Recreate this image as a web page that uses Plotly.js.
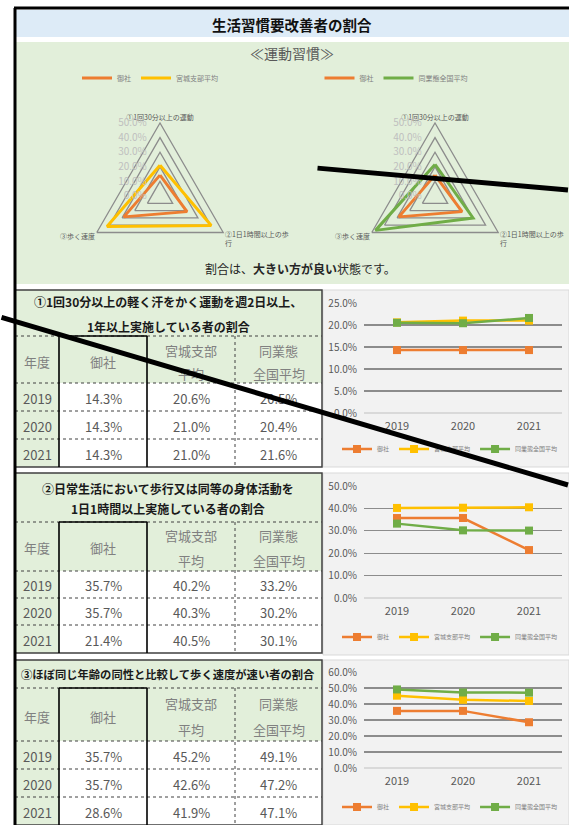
<!DOCTYPE html>
<html><head><meta charset="utf-8">
<script src="https://cdn.plot.ly/plotly-3.0.1.min.js"></script>
<style>html,body{margin:0;padding:0;background:#fff}#chart{width:569px;height:825px}</style>
</head><body><div id="chart"></div>
<script>
// ---------------- DATA ----------------
const years = ['2019', '2020', '2021'];
const seriesNames = ['御社', '宮城支部平均', '同業態全国平均'];
const seriesColors = ['#ed7d31', '#ffc000', '#70ad47'];

// ① exercise 30min+
const t1Company = [14.3, 14.3, 14.3];
const t1Miyagi = [20.6, 21.0, 21.0];
const t1National = [20.5, 20.4, 21.6];
// ② walking 1h+
const t2Company = [35.7, 35.7, 21.4];
const t2Miyagi = [40.2, 40.3, 40.5];
const t2National = [33.2, 30.2, 30.1];
// ③ walking speed
const t3Company = [35.7, 35.7, 28.6];
const t3Miyagi = [45.2, 42.6, 41.9];
const t3National = [49.1, 47.2, 47.1];

// radar (2021)
const radarAxes = ['①1回30分以上の運動', '②1日1時間以上の歩<br>行', '③歩く速度'];
const radarCompany = [14.3, 21.4, 28.6];
const radarMiyagi = [21.0, 40.5, 41.9];
const radarNational = [21.6, 30.1, 47.1];

const tableTitles = [
  ['①1回30分以上の軽く汗をかく運動を週2日以上、', '1年以上実施している者の割合'],
  ['②日常生活において歩行又は同等の身体活動を', '1日1時間以上実施している者の割合'],
  ['③ほぼ同じ年齢の同性と比較して歩く速度が速い者の割合']
];
const colHeaders = [['年度'], ['御社'], ['宮城支部', '平均'], ['同業態', '全国平均']];
const tableData = [
  [t1Company, t1Miyagi, t1National],
  [t2Company, t2Miyagi, t2National],
  [t3Company, t3Miyagi, t3National]
];
const yMax = [25, 50, 60];
const yStep = [5, 10, 10];

// ---------------- LAYOUT HELPERS ----------------
const W = 569, H = 825;
const px = x => x / W;
const py = y => 1 - y / H;
const JP = '"Noto Sans CJK JP", "Noto Sans", sans-serif';
const NARROW = '"Liberation Sans Narrow", "Arial Narrow", "Noto Sans CJK JP", sans-serif';

const shapes = [];
const annotations = [];
function rect(x0, y0, x1, y1, fill, line, lw, layer) {
  shapes.push({type: 'rect', xref: 'paper', yref: 'paper', x0: px(x0), x1: px(x1), y0: py(y1), y1: py(y0),
    fillcolor: fill || 'rgba(0,0,0,0)', line: {color: line || 'rgba(0,0,0,0)', width: lw || 0}, layer: layer || 'below'});
}
function seg(x0, y0, x1, y1, color, width, dash, layer) {
  shapes.push({type: 'line', xref: 'paper', yref: 'paper', x0: px(x0), x1: px(x1), y0: py(y0), y1: py(y1),
    line: {color: color, width: width, dash: dash || 'solid'}, layer: layer || 'above'});
}
function txt(x, y, text, size, color, family, xanchor) {
  annotations.push({xref: 'paper', yref: 'paper', x: px(x), y: py(y), text: text, showarrow: false,
    xanchor: xanchor || 'center', yanchor: 'middle', font: {size: size, color: color, family: family || JP}});
}

// ---------------- BACKGROUNDS ----------------
rect(15, 10, 569, 37, '#ddebf7');
rect(15, 42, 569, 284, '#e2efda');
txt(292, 25, '<b>生活習慣要改善者の割合</b>', 14.5, '#111', JP);
txt(292, 53, '≪運動習慣≫', 14, '#595959', JP);
txt(300, 268, '割合は、<b>大きい方が良い</b>状態です。', 12, '#262626', JP);

// ---------------- TABLES ----------------
const cols = [15, 59, 147, 235, 322];
const secs = [
  {top: 290, tb: 336, hb: 383, rows: [383, 411, 439, 467], titleY: [301, 326], hY: [350, 373]},
  {top: 473, tb: 522, hb: 571, rows: [571, 598, 625, 653], titleY: [488, 508], hY: [535, 560]},
  {top: 660, tb: 688, hb: 741, rows: [741, 769, 797, 825], titleY: [674], hY: [703, 729]}
];
const panels = [[290, 467], [473, 655], [660, 825]];

secs.forEach((s, si) => {
  const bottom = s.rows[3];
  rect(cols[0], s.top, cols[4], s.hb, '#e2efda');
  rect(cols[0], s.hb, cols[1], bottom, '#e2efda');
  rect(cols[1], s.hb, cols[4], bottom, '#ffffff');
  rect(cols[0], s.top, cols[4], bottom, null, '#404040', 1.5, 'above');
  seg(cols[0], s.tb, cols[4], s.tb, '#404040', 1, 'dot');
  seg(cols[0], s.hb, cols[4], s.hb, '#404040', 1, 'dot');
  for (let r = 1; r < 3; r++) seg(cols[0], s.rows[r], cols[4], s.rows[r], '#404040', 1, 'dot');
  seg(cols[1], s.tb, cols[1], bottom, '#000', 1.6);
  seg(cols[2], s.tb, cols[2], bottom, '#000', 1.6);
  seg(cols[3], s.tb, cols[3], bottom, '#404040', 1, 'dot');
  seg(cols[1], s.tb, cols[2], s.tb, '#000', 1.6);
  tableTitles[si].forEach((t, i) => txt(168, s.titleY[i], '<b>' + t + '</b>', si === 2 ? 11.3 : 12, '#1a1a1a', JP));
  colHeaders.forEach((h, c) => {
    const cx = (cols[c] + cols[c + 1]) / 2;
    if (h.length === 1) txt(cx, (s.hY[0] + s.hY[1]) / 2, h[0], 13, '#808080', JP);
    else h.forEach((line, i) => txt(cx, s.hY[i], line, 13, '#808080', JP));
  });
  years.forEach((yr, r) => {
    const cy = (s.rows[r] + s.rows[r + 1]) / 2 + 1;
    txt((cols[0] + cols[1]) / 2, cy, yr, 13, '#595959', NARROW);
    tableData[si].forEach((series, c) => {
      txt((cols[c + 1] + cols[c + 2]) / 2, cy, series[r].toFixed(1) + '%', 13, '#595959', NARROW);
    });
  });
  rect(323, panels[si][0], 569, panels[si][1], '#f2f2f2', '#d9d9d9', 1);
});

seg(14, 8, 569, 8, '#000', 3);
seg(15, 8, 15, 825, '#000', 3);

// ---------------- TRACES ----------------
const traces = [];
function closeLoop(a) { return a.concat([a[0]]); }
const thetaLoop = closeLoop(radarAxes);
traces.push({type: 'scatterpolar', subplot: 'polar', r: closeLoop(radarCompany), theta: thetaLoop, mode: 'lines',
  name: seriesNames[0], line: {color: seriesColors[0], width: 3}, legend: 'legend'});
traces.push({type: 'scatterpolar', subplot: 'polar', r: closeLoop(radarMiyagi), theta: thetaLoop, mode: 'lines',
  name: seriesNames[1], line: {color: seriesColors[1], width: 3}, legend: 'legend'});
traces.push({type: 'scatterpolar', subplot: 'polar2', r: closeLoop(radarCompany), theta: thetaLoop, mode: 'lines',
  name: seriesNames[0], line: {color: seriesColors[0], width: 3}, legend: 'legend2'});
traces.push({type: 'scatterpolar', subplot: 'polar2', r: closeLoop(radarNational), theta: thetaLoop, mode: 'lines',
  name: seriesNames[2], line: {color: seriesColors[2], width: 3}, legend: 'legend2'});

tableData.forEach((group, gi) => {
  group.forEach((vals, si) => {
    traces.push({type: 'scatter', x: years, y: vals, mode: 'lines+markers', name: seriesNames[si],
      xaxis: gi === 0 ? 'x' : 'x' + (gi + 1), yaxis: gi === 0 ? 'y' : 'y' + (gi + 1),
      line: {color: seriesColors[si], width: 2.5}, marker: {symbol: 'square', size: 8, color: seriesColors[si]},
      legend: 'legend' + (gi + 3)});
  });
});

// ---------------- LAYOUT ----------------
const R = 73;
const PAD = '\u00a0'.repeat(5);
function polarCfg(cx, cy) {
  return {
    domain: {x: [px(cx - R), px(cx + R)], y: [py(cy + R), py(cy - R)]},
    bgcolor: 'rgba(0,0,0,0)',
    gridshape: 'linear',
    radialaxis: {range: [0, 50], dtick: 10, tickformat: '.1f', ticksuffix: '%' + PAD, angle: 90, tickangle: 90,
      side: 'counterclockwise', showline: false, gridcolor: '#8c8c8c', gridwidth: 1.3, ticks: '',
      tickfont: {size: 10, color: '#bfbfbf', family: NARROW}},
    angularaxis: {rotation: 90, direction: 'clockwise', showgrid: false, linecolor: '#8c8c8c', linewidth: 1.3,
      ticks: '', tickfont: {size: 7, color: '#595959', family: JP}}
  };
}

const plotX = [px(364), px(562)];
const yPix = [[303, 413], [486, 598], [672, 768]];
const legendY = [449, 637, 807];

const layout = {
  width: W, height: H,
  margin: {l: 0, r: 0, t: 0, b: 0},
  paper_bgcolor: '#ffffff', plot_bgcolor: 'rgba(0,0,0,0)',
  shapes: shapes,
  polar: polarCfg(160, 196),
  polar2: polarCfg(435, 196),
  legend: {x: px(150), y: py(78), xanchor: 'center', yanchor: 'middle', orientation: 'h',
    bgcolor: 'rgba(0,0,0,0)', font: {size: 7, color: '#808080', family: JP}, itemwidth: 30},
  legend2: {x: px(396), y: py(78), xanchor: 'center', yanchor: 'middle', orientation: 'h',
    bgcolor: 'rgba(0,0,0,0)', font: {size: 7, color: '#808080', family: JP}, itemwidth: 30},
  showlegend: true
};
for (let g = 0; g < 3; g++) {
  const xa = g === 0 ? 'xaxis' : 'xaxis' + (g + 1);
  const ya = g === 0 ? 'yaxis' : 'yaxis' + (g + 1);
  layout[xa] = {domain: plotX, type: 'category', range: [-0.5, 2.5], showgrid: false, zeroline: false,
    showline: false, ticks: '', ticklabelstandoff: 5, anchor: g === 0 ? 'y' : 'y' + (g + 1),
    tickfont: {size: 11, color: '#595959', family: NARROW}, fixedrange: true};
  layout[ya] = {domain: [py(yPix[g][1]), py(yPix[g][0])], range: [0, yMax[g]], dtick: yStep[g],
    tickformat: '.1f', ticksuffix: '%', showgrid: true, gridcolor: '#8c8c8c', gridwidth: 1.3,
    zeroline: true, zerolinecolor: '#d9d9d9', zerolinewidth: 1.3, showline: false, ticks: '',
    ticklabelstandoff: 6, anchor: g === 0 ? 'x' : 'x' + (g + 1),
    tickfont: {size: 10, color: '#595959', family: NARROW}, fixedrange: true};
  layout['legend' + (g + 3)] = {x: px(450), y: py(legendY[g]), xanchor: 'center', yanchor: 'middle',
    orientation: 'h', bgcolor: 'rgba(0,0,0,0)', font: {size: 6, color: '#808080', family: JP}, itemwidth: 30};
}

function stroke(x0, y0, x1, y1) {
  annotations.push({xref: 'paper', yref: 'paper', x: px(x1), y: py(y1), ax: x0 - x1, ay: y0 - y1,
    text: '', showarrow: true, arrowhead: 0, arrowwidth: 5, arrowcolor: '#000', standoff: 0, startstandoff: 0});
}
stroke(316, 168, 569, 190);
stroke(0, 317, 569, 485);
layout.annotations = annotations;

Plotly.newPlot('chart', traces, layout, {staticPlot: true});
</script></body></html>
